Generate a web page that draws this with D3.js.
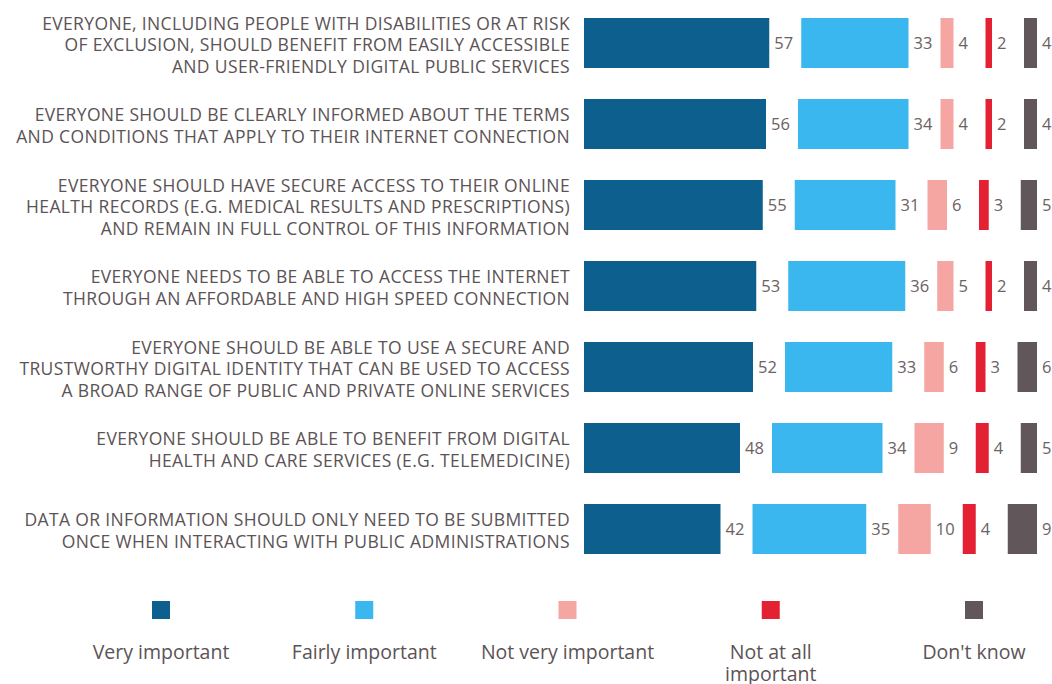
<!DOCTYPE html>
<html>
<head>
<meta charset="utf-8">
<script src="https://cdn.jsdelivr.net/npm/d3@7"></script>
<style>
  body { margin: 0; background: #fff; }
  svg text { font-family: "Open Sans", "Noto Sans", sans-serif; }
</style>
</head>
<body>
<svg class="chart"></svg>
<script>
const categories = [
    ["EVERYONE, INCLUDING PEOPLE WITH DISABILITIES OR AT RISK", "OF EXCLUSION, SHOULD BENEFIT FROM EASILY ACCESSIBLE", "AND USER-FRIENDLY DIGITAL PUBLIC SERVICES"],
    ["EVERYONE SHOULD BE CLEARLY INFORMED ABOUT THE TERMS", "AND CONDITIONS THAT APPLY TO THEIR INTERNET CONNECTION"],
    ["EVERYONE SHOULD HAVE SECURE ACCESS TO THEIR ONLINE", "HEALTH RECORDS (E.G. MEDICAL RESULTS AND PRESCRIPTIONS)", "AND REMAIN IN FULL CONTROL OF THIS INFORMATION"],
    ["EVERYONE NEEDS TO BE ABLE TO ACCESS THE INTERNET", "THROUGH AN AFFORDABLE AND HIGH SPEED CONNECTION"],
    ["EVERYONE SHOULD BE ABLE TO USE A SECURE AND", "TRUSTWORTHY DIGITAL IDENTITY THAT CAN BE USED TO ACCESS", "A BROAD RANGE OF PUBLIC AND PRIVATE ONLINE SERVICES"],
    ["EVERYONE SHOULD BE ABLE TO BENEFIT FROM DIGITAL", "HEALTH AND CARE SERVICES (E.G. TELEMEDICINE)"],
    ["DATA OR INFORMATION SHOULD ONLY NEED TO BE SUBMITTED", "ONCE WHEN INTERACTING WITH PUBLIC ADMINISTRATIONS"]
];

const seriesNames = ["Very important", "Fairly important", "Not very important", "Not at all important", "Don't know"];
const legendLines = [["Very important"], ["Fairly important"], ["Not very important"], ["Not at all", "important"], ["Don't know"]];
const colors = ["#0d5f8e", "#39b7ee", "#f5a6a3", "#e42133", "#61575b"];

const veryImportant   = [57, 56, 55, 53, 52, 48, 42];
const fairlyImportant = [33, 34, 31, 36, 33, 34, 35];
const notVeryImportant = [4, 4, 6, 5, 6, 9, 10];
const notAtAll        = [2, 2, 3, 2, 3, 4, 4];
const dontKnow        = [4, 4, 5, 4, 6, 5, 9];

const series = [veryImportant, fairlyImportant, notVeryImportant, notAtAll, dontKnow];

const canvas = {width: 1052, height: 684};
const barLeft = 584;
const gap = 32;

const svg = d3.select(".chart")
    .attr("width", canvas.width)
    .attr("height", canvas.height);

const x = d3.scaleLinear().domain([0, 100]).range([0, 325]);
const y = d3.scaleBand()
    .domain(d3.range(categories.length))
    .range([18, 18 + 6 * 81 + 50])
    .paddingInner(31 / 81)
    .paddingOuter(0);

// build rows of segments with start offsets
const rows = categories.map(function (c, i) {
    let cum = 0;
    return series.map(function (s, j) {
        const seg = {row: i, k: j, value: s[i], start: cum};
        cum += s[i];
        return seg;
    });
});

function segX(d) {
    return barLeft + x(d.start) + d.k * gap;
}

const rowG = svg.selectAll(".row")
    .data(rows)
    .enter()
    .append("g")
    .attr("class", "row")
    .attr("transform", function (d, i) { return "translate(0," + y(i) + ")"; });

rowG.selectAll("rect")
    .data(function (d) { return d; })
    .enter()
    .append("rect")
    .attr("x", segX)
    .attr("y", 0)
    .attr("width", function (d) { return x(d.value); })
    .attr("height", y.bandwidth())
    .attr("fill", function (d) { return colors[d.k]; });

rowG.selectAll(".val")
    .data(function (d) { return d; })
    .enter()
    .append("text")
    .attr("class", "val")
    .attr("x", function (d) { return segX(d) + x(d.value) + 5; })
    .attr("y", y.bandwidth() / 2)
    .attr("dy", "0.36em")
    .attr("fill", "#6b6264")
    .style("font-size", "16.5px")
    .text(function (d) { return d.value; });

// category labels
const lineH = 21.5;
const catText = svg.selectAll(".cat")
    .data(categories)
    .enter()
    .append("text")
    .attr("class", "cat")
    .attr("text-anchor", "end")
    .attr("fill", "#5b5355")
    .style("font-size", "17.5px")
    .style("letter-spacing", "0.36px")
    .attr("y", function (d, i) {
        return y(i) + y.bandwidth() / 2 + 2 - (d.length - 1) * lineH / 2;
    });

catText.selectAll("tspan")
    .data(function (d) { return d; })
    .enter()
    .append("tspan")
    .attr("x", 570)
    .attr("dy", function (d, i) { return i === 0 ? "0.35em" : lineH; })
    .text(function (d) { return d; });

// legend
const legendX = d3.scalePoint()
    .domain(seriesNames)
    .range([161, 974]);

const legend = svg.selectAll(".legend")
    .data(seriesNames)
    .enter()
    .append("g")
    .attr("class", "legend")
    .attr("transform", function (d) { return "translate(" + legendX(d) + ",0)"; });

legend.append("rect")
    .attr("x", -9)
    .attr("y", 601)
    .attr("width", 18)
    .attr("height", 18)
    .attr("fill", function (d, i) { return colors[i]; });

legend.append("text")
    .attr("text-anchor", "middle")
    .attr("y", 659)
    .attr("fill", "#5b5355")
    .style("font-size", "19.5px")
    .selectAll("tspan")
    .data(function (d, i) { return legendLines[i]; })
    .enter()
    .append("tspan")
    .attr("x", 0)
    .attr("dy", function (d, i) { return i === 0 ? 0 : 22; })
    .text(function (d) { return d; });
</script>
</body>
</html>
